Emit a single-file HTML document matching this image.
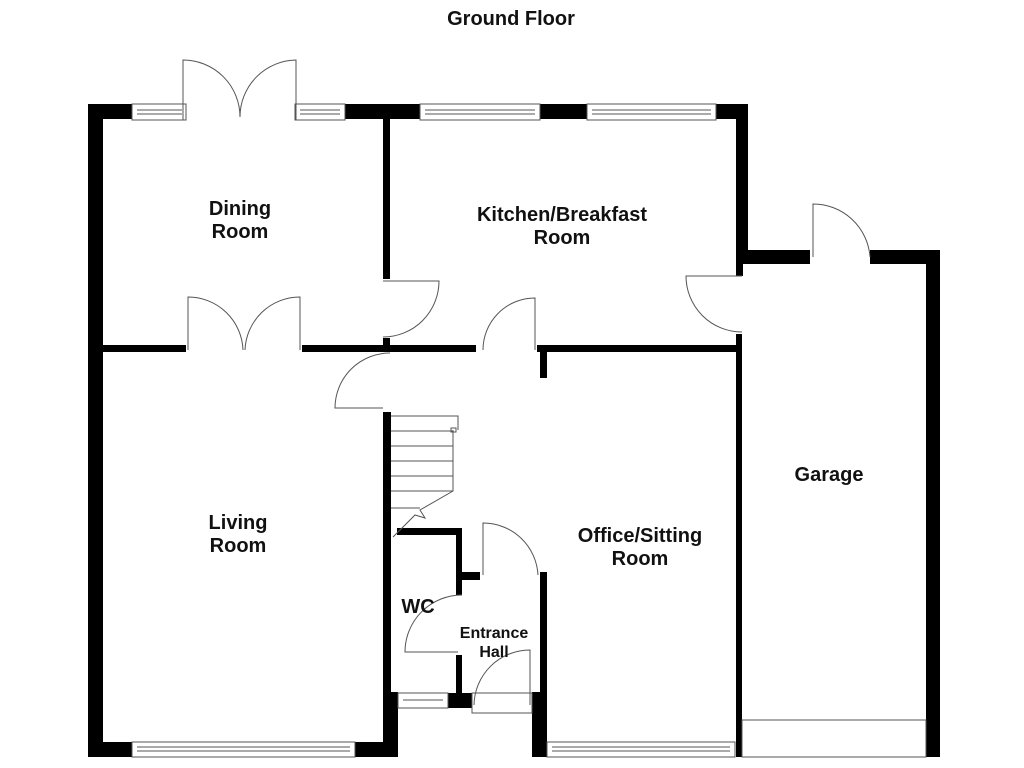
<!DOCTYPE html>
<html><head><style>body{margin:0;background:#fff}svg{display:block}text{font-family:"Liberation Sans",Arial,sans-serif;font-weight:bold;fill:#111;text-anchor:middle}</style></head>
<body>
<svg width="1024" height="768" viewBox="0 0 1024 768" xmlns="http://www.w3.org/2000/svg">
<rect width="1024" height="768" fill="#fff"/>
<g fill="#000">
<!-- outer -->
<rect x="88" y="104" width="15" height="653"/>
<rect x="88" y="104" width="44" height="15"/>
<rect x="345" y="104" width="75" height="15"/>
<rect x="540" y="104" width="47" height="15"/>
<rect x="716" y="104" width="32" height="15"/>
<rect x="736" y="104" width="12" height="160"/>
<rect x="736" y="250" width="74" height="14"/>
<rect x="870" y="250" width="70" height="14"/>
<rect x="926" y="250" width="14" height="507"/>
<rect x="736" y="264" width="7" height="12"/>
<rect x="736" y="334" width="6" height="423"/>
<rect x="88" y="742" width="44" height="15"/>
<rect x="355" y="742" width="43" height="15"/>
<rect x="383" y="412" width="8" height="345"/>
<rect x="390" y="692" width="8" height="56"/>
<!-- dining/kitchen -->
<rect x="383" y="119" width="7" height="160"/>
<rect x="383" y="338" width="7" height="14"/>
<rect x="103" y="345" width="83" height="7"/>
<rect x="302" y="345" width="174" height="7"/>
<rect x="537" y="345" width="199" height="7"/>
<rect x="540" y="352" width="7" height="26"/>
<!-- WC -->
<rect x="397" y="528" width="65" height="7"/>
<rect x="456" y="528" width="6" height="67"/>
<rect x="462" y="572" width="18" height="8"/>
<rect x="456" y="655" width="6" height="38"/>
<rect x="448" y="693" width="24" height="15"/>
<rect x="540" y="572" width="7" height="120"/>
<rect x="532" y="692" width="15" height="65"/>
</g>
<g fill="#fff" stroke="#555" stroke-width="1">
<!-- windows -->
<rect x="132" y="104" width="54" height="16"/><line x1="137" y1="110" x2="182" y2="110"/><line x1="137" y1="114" x2="182" y2="114"/>
<rect x="295" y="104" width="50" height="16"/><line x1="300" y1="110" x2="340" y2="110"/><line x1="300" y1="114" x2="340" y2="114"/>
<rect x="420" y="104" width="120" height="16"/><line x1="425" y1="110" x2="535" y2="110"/><line x1="425" y1="114" x2="535" y2="114"/>
<rect x="587" y="104" width="129" height="16"/><line x1="592" y1="110" x2="711" y2="110"/><line x1="592" y1="114" x2="711" y2="114"/>
<rect x="132" y="742" width="223" height="15"/><line x1="137" y1="747" x2="350" y2="747"/><line x1="137" y1="751" x2="350" y2="751"/>
<rect x="547" y="742" width="188" height="15"/><line x1="552" y1="747" x2="730" y2="747"/><line x1="552" y1="751" x2="730" y2="751"/>
<rect x="398" y="693" width="50" height="15"/><line x1="403" y1="700" x2="443" y2="700"/>
<rect x="472" y="693" width="60" height="20"/>
<rect x="742" y="720" width="184" height="37"/>
</g>
<g fill="none" stroke="#555" stroke-width="1">
<!-- doors -->
<path d="M183 120 V60 A57 57 0 0 1 240 117 M296 120 V60 A57 57 0 0 0 240 117"/>
<path d="M188 350 V297 A55 55 0 0 1 243 350 M300 350 V297 A55 55 0 0 0 245 350"/>
<path d="M383 281 H439 A56 56 0 0 1 383 337"/>
<path d="M535 350 V298 A52 52 0 0 0 483 350"/>
<path d="M383 408 H335 A55 55 0 0 1 390 353"/>
<path d="M813 257 V204 A57 57 0 0 1 870 257"/>
<path d="M742 276 H686 A56 56 0 0 0 742 332"/>
<path d="M483 575 V523 A55 55 0 0 1 538 575"/>
<path d="M458 652 H405 A57 57 0 0 1 462 595"/>
<path d="M530 705 V650 A56 56 0 0 0 474 705"/>
<!-- stairs -->
<path d="M391 416 H458 V430 M391 431 H453 M391 446 H453 M391 461 H453 M391 476 H453 M391 491 H453 M453 430 V491 L420 510 L425 518 L415 515 L393 537 M391 508 H420"/>
<rect x="451" y="428" width="5" height="4"/>
</g>
<text x="511" y="25" font-size="20">Ground Floor</text>
<text x="240" y="215" font-size="20">Dining</text><text x="240" y="238" font-size="20">Room</text>
<text x="562" y="221" font-size="20">Kitchen/Breakfast</text><text x="562" y="244" font-size="20">Room</text>
<text x="829" y="481" font-size="20">Garage</text>
<text x="238" y="529" font-size="20">Living</text><text x="238" y="552" font-size="20">Room</text>
<text x="640" y="542" font-size="20">Office/Sitting</text><text x="640" y="565" font-size="20">Room</text>
<text x="418" y="613" font-size="20">WC</text>
<text x="494" y="638" font-size="16">Entrance</text><text x="494" y="657" font-size="16">Hall</text>
</svg>
</body></html>
